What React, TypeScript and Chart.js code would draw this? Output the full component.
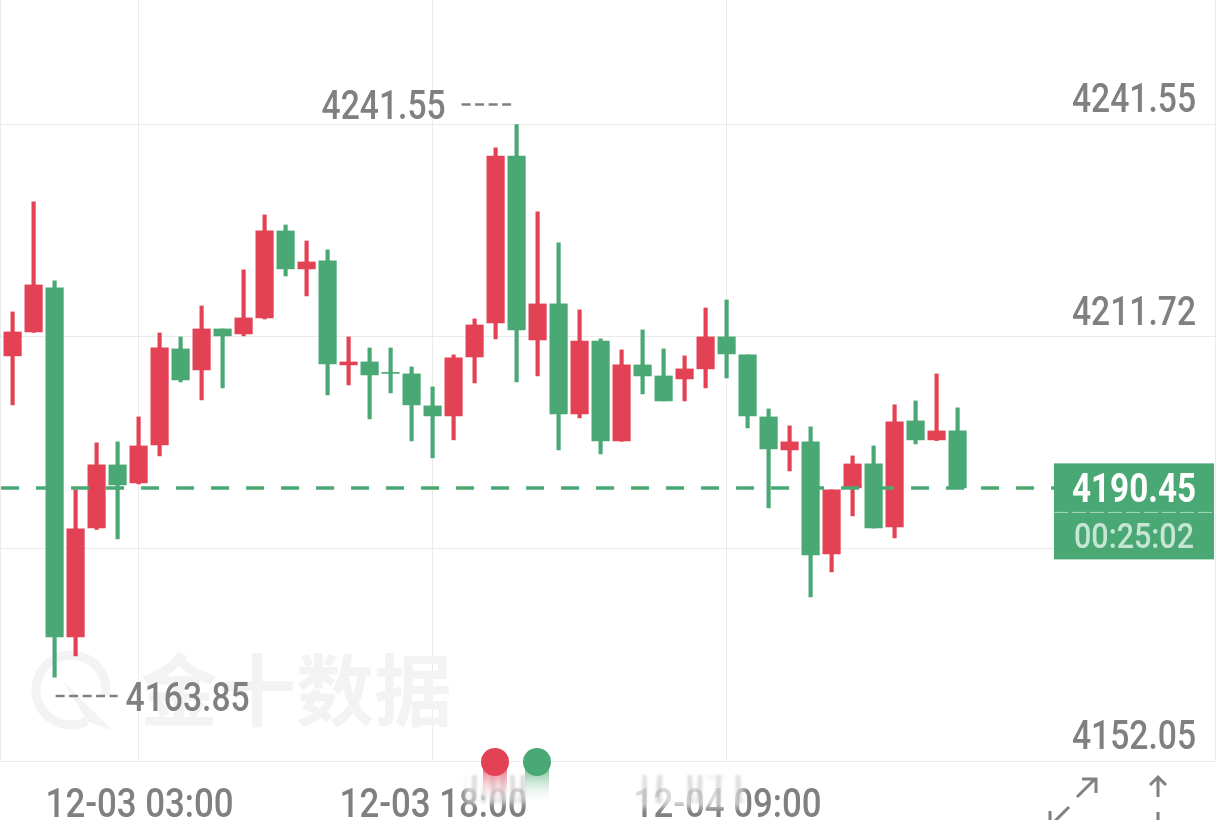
import React, { useEffect, useRef } from "react";
import Chart from "chart.js/auto";

const opens = [4209.01, 4212.38, 4218.57, 4169.5, 4184.83, 4193.68, 4191.15, 4196.49, 4209.99, 4207.04, 4212.8, 4212.1, 4214.35, 4226.58, 4221.24, 4222.36, 4207.74, 4208.16, 4206.69, 4206.48, 4201.98, 4200.57, 4208.86, 4213.64, 4237.12, 4211.25, 4216.32, 4200.85, 4211.11, 4197.06, 4207.74, 4206.19, 4205.77, 4207.18, 4211.68, 4209.15, 4200.43, 4195.79, 4196.92, 4181.17, 4190.45, 4193.82, 4184.97, 4199.87, 4197.2, 4198.46];
const closes = [4212.38, 4218.99, 4169.5, 4184.69, 4193.68, 4190.87, 4196.35, 4210.13, 4205.63, 4212.8, 4211.82, 4214.35, 4226.58, 4221.24, 4222.22, 4207.88, 4208.16, 4206.33, 4206.55, 4202.12, 4200.57, 4208.72, 4213.36, 4237.12, 4212.66, 4216.32, 4200.85, 4211.11, 4197.06, 4207.74, 4206.19, 4202.68, 4207.18, 4211.68, 4209.29, 4200.57, 4195.93, 4196.92, 4181.03, 4190.17, 4193.82, 4184.83, 4199.73, 4197.2, 4198.46, 4190.45];
const highs = [4215.19, 4230.66, 4219.55, 4190.17, 4196.78, 4196.92, 4200.43, 4212.24, 4211.68, 4216.03, 4212.8, 4221.1, 4228.83, 4227.42, 4225.17, 4223.91, 4211.68, 4210.13, 4210.13, 4207.46, 4204.65, 4209.15, 4214.21, 4238.25, 4241.55, 4229.25, 4224.89, 4215.47, 4211.4, 4209.85, 4212.66, 4209.99, 4209.01, 4215.75, 4216.88, 4209.15, 4201.55, 4199.17, 4199.02, 4190.17, 4194.95, 4196.35, 4202.12, 4202.68, 4206.48, 4201.7];
const lows = [4202.12, 4212.3, 4163.85, 4166.83, 4184.6, 4183.28, 4191.01, 4194.95, 4205.35, 4202.82, 4204.51, 4211.82, 4214.2, 4220.25, 4217.44, 4203.52, 4204.93, 4200.15, 4203.8, 4197.06, 4194.67, 4197.2, 4205.21, 4211.4, 4205.35, 4206.19, 4195.79, 4200.29, 4195.23, 4197, 4203.66, 4202.68, 4202.68, 4204.51, 4205.91, 4198.88, 4187.64, 4192.84, 4175.13, 4178.64, 4186.51, 4184.8, 4183.42, 4196.64, 4197.1, 4190.45];

const priceTicks = [4152.05, 4181.88, 4211.72, 4241.55];
const hiddenPriceTick = 4181.88;
const timeTickIndexes = [6, 20, 34];
const timeTickLabels = ["12-03 03:00", "12-03 18:00", "12-04 09:00"];
const lastPrice = 4190.45;
const countdown = "00:25:02";
const watermark = "金十数据";

const RED = "#e34255";
const GREEN = "#4aa874";
const GREY = "#808080";
const GRID = "#ebebeb";
const FONT = "500 41px Roboto, sans-serif";

const candleIndexes = opens.map((_, i) => i);
const candleColors = opens.map((o, i) => (closes[i] >= o ? RED : GREEN));

// the reference uses a narrow DIN style face, so squeeze the text to its width
function drawNarrow(ctx: CanvasRenderingContext2D, text: string, x: number, y: number, width: number, align: CanvasTextAlign) {
  const scaleX = width / ctx.measureText(text).width;
  ctx.save();
  ctx.translate(x, y);
  ctx.scale(scaleX, 1);
  ctx.textAlign = align;
  ctx.textBaseline = "alphabetic";
  ctx.fillText(text, 0, 0);
  ctx.restore();
}

// watermark sits under the candles
const watermarkPlugin = {
  id: "watermark",
  beforeDatasetsDraw(chart: Chart) {
    const { ctx } = chart;
    ctx.save();
    ctx.fillStyle = "#f3f3f3";
    ctx.strokeStyle = "#f3f3f3";
    ctx.font = 'bold 78px "Noto Sans CJK SC"';
    ctx.textBaseline = "middle";
    ctx.fillText(watermark, 140, 690);
    ctx.lineWidth = 9;
    ctx.beginPath();
    ctx.arc(71, 690, 35, Math.PI * 0.35, Math.PI * 2.05);
    ctx.stroke();
    ctx.beginPath();
    ctx.moveTo(62, 680);
    ctx.lineTo(112, 730);
    ctx.lineTo(88, 722);
    ctx.closePath();
    ctx.fill();
    ctx.restore();
  },
};

const overlayPlugin = {
  id: "overlay",
  afterDraw(chart: Chart) {
    const { ctx, scales } = chart;
    const x = scales.x;
    const y = scales.y;
    ctx.save();

    // outer frame
    ctx.strokeStyle = GRID;
    ctx.lineWidth = 1;
    ctx.beginPath();
    ctx.moveTo(0.5, 0);
    ctx.lineTo(0.5, 761);
    ctx.moveTo(1215.5, 0);
    ctx.lineTo(1215.5, 761);
    ctx.stroke();

    // axis labels
    ctx.fillStyle = GREY;
    ctx.font = FONT;
    y.ticks.forEach((tick: any, i: number) => {
      if (tick.label) drawNarrow(ctx, tick.label, 1196, y.getPixelForTick(i) - 12, 124, "right");
    });
    x.ticks.forEach((tick: any, i: number) => {
      drawNarrow(ctx, tick.label, x.getPixelForTick(i) + 1, 817, 188, "center");
    });

    // highest / lowest markers
    const maxHigh = Math.max(...highs);
    const minLow = Math.min(...lows);
    const hiX = x.getPixelForValue(highs.indexOf(maxHigh));
    const hiY = y.getPixelForValue(maxHigh) - 20;
    const loX = x.getPixelForValue(lows.indexOf(minLow));
    const loY = y.getPixelForValue(minLow) + 19;
    drawNarrow(ctx, maxHigh.toFixed(2), hiX - 71, hiY + 14.5, 124, "right");
    drawNarrow(ctx, minLow.toFixed(2), loX + 71, loY + 14.5, 124, "left");
    ctx.strokeStyle = GREY;
    ctx.lineWidth = 2.5;
    ctx.setLineDash([9, 4.5]);
    ctx.beginPath();
    ctx.moveTo(hiX - 55, hiY);
    ctx.lineTo(hiX - 5, hiY);
    ctx.moveTo(loX + 1, loY);
    ctx.lineTo(loX + 63, loY);
    ctx.stroke();
    ctx.setLineDash([]);

    // last price tag
    const tagY = y.getPixelForValue(lastPrice);
    ctx.fillStyle = GREEN;
    ctx.fillRect(1054, tagY - 24.5, 160, 96);
    ctx.strokeStyle = "rgba(255,255,255,0.55)";
    ctx.lineWidth = 1;
    ctx.setLineDash([14, 4]);
    ctx.beginPath();
    ctx.moveTo(1054, tagY + 24.5);
    ctx.lineTo(1214, tagY + 24.5);
    ctx.stroke();
    ctx.setLineDash([]);
    ctx.fillStyle = "#ffffff";
    ctx.font = "700 41px Roboto, sans-serif";
    drawNarrow(ctx, lastPrice.toFixed(2), 1196, tagY + 14.5, 124, "right");
    ctx.fillStyle = "#c6e6d4";
    ctx.font = "500 35px Roboto, sans-serif";
    drawNarrow(ctx, countdown, 1194, tagY + 60, 120, "right");

    // smeared strip over the time labels: wash them out, then pull the digit columns upwards
    ctx.filter = "blur(3px)";
    ctx.fillStyle = "rgba(255,255,255,0.7)";
    ctx.fillRect(465, 773, 80, 30);
    ctx.fillRect(545, 775, 198, 32);
    ctx.filter = "blur(1.5px)";
    ctx.globalAlpha = 0.3;
    ctx.drawImage(chart.canvas, 465, 811, 280, 2, 465, 775, 280, 28);
    ctx.globalAlpha = 1;
    ctx.filter = "none";

    // scroll dots with their fading trails
    [
      [495, RED],
      [537, GREEN],
    ].forEach(([cx, color]) => {
      const px = cx as number;
      const fade = ctx.createLinearGradient(0, 762, 0, 805);
      fade.addColorStop(0, color as string);
      fade.addColorStop(1, "rgba(255,255,255,0)");
      ctx.fillStyle = fade;
      ctx.fillRect(px - 12, 762, 24, 43);
      ctx.fillStyle = color as string;
      ctx.beginPath();
      ctx.arc(px, 762, 14, 0, Math.PI * 2);
      ctx.fill();
    });

    // expand + vertical scale icons
    ctx.strokeStyle = GREY;
    ctx.lineWidth = 3;
    ctx.beginPath();
    ctx.moveTo(1077, 797);
    ctx.lineTo(1095, 779);
    ctx.moveTo(1082, 779);
    ctx.lineTo(1096, 779);
    ctx.lineTo(1096, 793);
    ctx.moveTo(1069, 807);
    ctx.lineTo(1051, 825);
    ctx.moveTo(1050, 811);
    ctx.lineTo(1050, 826);
    ctx.moveTo(1158, 777);
    ctx.lineTo(1158, 797);
    ctx.moveTo(1150, 785);
    ctx.lineTo(1158, 777);
    ctx.lineTo(1166, 785);
    ctx.moveTo(1158, 812);
    ctx.lineTo(1158, 822);
    ctx.stroke();
    ctx.restore();
  },
};

export default function App() {
  const canvasRef = useRef<HTMLCanvasElement>(null);

  useEffect(() => {
    if (!canvasRef.current) return;
    const chart = new Chart(canvasRef.current, {
      type: "bar",
      data: {
        datasets: [
          {
            label: "price",
            type: "line",
            data: [
              { x: -0.55, y: lastPrice },
              { x: 49.6, y: lastPrice },
            ],
            borderColor: GREEN,
            borderWidth: 3.5,
            borderDash: [18, 17],
            pointRadius: 0,
            order: 1,
          },
          {
            label: "body",
            data: candleIndexes.map((i) => ({ x: i, y: [opens[i], closes[i]] })),
            backgroundColor: candleColors,
            barThickness: 17.5,
            grouped: false,
            order: 2,
          },
          {
            label: "wick",
            data: candleIndexes.map((i) => ({ x: i, y: [lows[i], highs[i]] })),
            backgroundColor: candleColors,
            barThickness: 3.5,
            grouped: false,
            order: 3,
          },
        ] as any,
      },
      options: {
        responsive: false,
        animation: false,
        layout: { padding: 0 },
        plugins: { legend: { display: false }, tooltip: { enabled: false } },
        scales: {
          x: {
            type: "linear",
            offset: false,
            min: -0.6,
            max: 57.305,
            afterBuildTicks: (scale: any) => {
              scale.ticks = timeTickIndexes.map((value) => ({ value }));
            },
            afterFit: (scale: any) => {
              scale.height = 59;
              scale.paddingLeft = 0;
              scale.paddingRight = 0;
            },
            border: { display: false },
            grid: { color: GRID, drawTicks: false, offset: false },
            ticks: {
              display: false,
              autoSkip: false,
              callback: (value: any) => timeTickLabels[timeTickIndexes.indexOf(value)],
            },
          },
          y: {
            position: "right",
            min: 4152.05,
            max: 4259.05,
            afterBuildTicks: (scale: any) => {
              scale.ticks = priceTicks.map((value) => ({ value }));
            },
            afterFit: (scale: any) => {
              scale.width = 0;
              scale.paddingTop = 0;
              scale.paddingBottom = 0;
            },
            border: { display: false },
            grid: { color: GRID, drawTicks: false },
            ticks: {
              display: false,
              autoSkip: false,
              callback: (value: any) => (value === hiddenPriceTick ? "" : Number(value).toFixed(2)),
            },
          },
        },
      },
      plugins: [watermarkPlugin, overlayPlugin],
    } as any);
    return () => chart.destroy();
  }, []);

  return (
    <div style={{ position: "absolute", left: 0, top: 0, width: 1216, height: 820, background: "#fff" }}>
      <canvas ref={canvasRef} width={1216} height={820} style={{ display: "block" }} />
    </div>
  );
}
